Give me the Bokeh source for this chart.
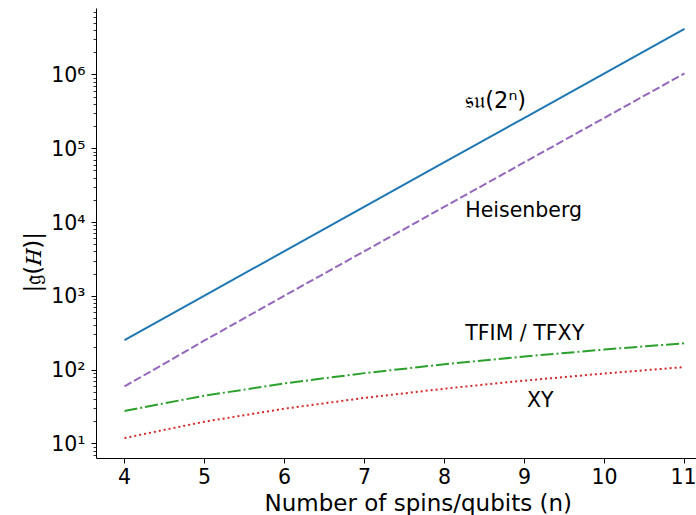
from bokeh.plotting import figure
from bokeh.models import Range1d, FixedTicker, CustomJSTickFormatter, ColumnDataSource, Title
from bokeh.core.properties import value
from bokeh.embed import file_html
from bokeh.resources import INLINE

# ---- data ----
n_spins = [4, 5, 6, 7, 8, 9, 10, 11]
su_dim = [255, 1023, 4095, 16383, 65535, 262143, 1048575, 4194303]
heis_dim = [60, 252, 1020, 4092, 16380, 65532, 262140, 1048572]
tfim_dim = [28, 45, 66, 91, 120, 153, 190, 231]
xy_dim = [12, 20, 30, 42, 56, 72, 90, 110]

x_ticks = [4, 5, 6, 7, 8, 9, 10, 11]
y_ticks = [10, 100, 1000, 10000, 100000, 1000000]

su_label = ["𝔰𝔲(2ⁿ)"]
su_label_x = [8.26]
su_label_y = [4.6e5]
ann_text = ["Heisenberg", "TFIM / TFXY", "XY"]
ann_x = [8.26, 8.26, 9.03]
ann_y = [1.48e4, 320, 39.5]

FONT = "DejaVu Sans"
FS = "20.5px"
LFS = "23px"

p = figure(
    frame_width=600, frame_height=450,
    min_border_left=96, min_border_right=0, min_border_top=8, min_border_bottom=10,
    x_range=Range1d(3.65, 11.15), y_range=Range1d(6.34, 7.94e6),
    y_axis_type="log", output_backend="svg", toolbar_location=None,
    background_fill_color="white", border_fill_color="white",
)
p.outline_line_color = None
p.xgrid.grid_line_color = None
p.ygrid.grid_line_color = None

p.line(n_spins, su_dim, line_color="#1f77b4", line_width=2)
p.line(n_spins, heis_dim, line_color="#9467bd", line_width=2, line_dash="8 3")
p.line(n_spins, tfim_dim, line_color="#2ca02c", line_width=2, line_dash="13 3 2 3")
p.line(n_spins, xy_dim, line_color="#d62728", line_width=2, line_dash="2 3")

src = ColumnDataSource(dict(x=ann_x, y=ann_y, t=ann_text))
p.text(x="x", y="y", text="t", source=src, text_font=value(FONT), text_font_size=FS,
       text_color="black", text_align="left", text_baseline="alphabetic")
src2 = ColumnDataSource(dict(x=su_label_x, y=su_label_y, t=su_label))
p.text(x="x", y="y", text="t", source=src2, text_font=value(FONT), text_font_size="22.5px",
       text_color="black", text_align="left", text_baseline="alphabetic")

p.xaxis.ticker = FixedTicker(ticks=x_ticks)
minor = [m * 10 ** k for k in range(0, 8) for m in range(2, 10)]
p.yaxis.ticker = FixedTicker(ticks=y_ticks, minor_ticks=minor)
p.yaxis.formatter = CustomJSTickFormatter(code="""
const sup = {'0':'\u2070','1':'\u00b9','2':'\u00b2','3':'\u00b3','4':'\u2074','5':'\u2075','6':'\u2076','7':'\u2077','8':'\u2078','9':'\u2079','-':'\u207b'};
const e = Math.round(Math.log10(tick));
return '10' + String(e).split('').map(c => sup[c]).join('');
""")

for ax in (p.xaxis[0], p.yaxis[0]):
    ax.axis_line_color = "black"
    ax.axis_line_width = 1
    ax.major_tick_line_color = "black"
    ax.major_tick_line_width = 1
    ax.major_tick_out = 5
    ax.major_tick_in = 0
    ax.minor_tick_line_color = "black"
    ax.minor_tick_line_width = 0.8
    ax.minor_tick_out = 3
    ax.minor_tick_in = 0
    ax.major_label_text_font = FONT
    ax.major_label_text_font_size = FS
    ax.major_label_text_color = "black"

p.xaxis.minor_tick_line_color = None
p.xaxis.major_label_standoff = 4
p.yaxis.major_label_standoff = 6

# axis titles as side titles, positioned like the reference
ytitle = Title(text="|𝔤(𝐻)|", align="left", offset=166, standoff=6,
               text_font=FONT, text_font_size=LFS, text_font_style="normal",
               text_color="black")
p.add_layout(ytitle, "left")
xtitle = Title(text="Number of spins/qubits (n)", align="left", offset=168, standoff=2,
               text_font=FONT, text_font_size=LFS, text_font_style="normal",
               text_color="black")
p.add_layout(xtitle, "below")

open("out.html", "w").write(file_html(p, INLINE))
